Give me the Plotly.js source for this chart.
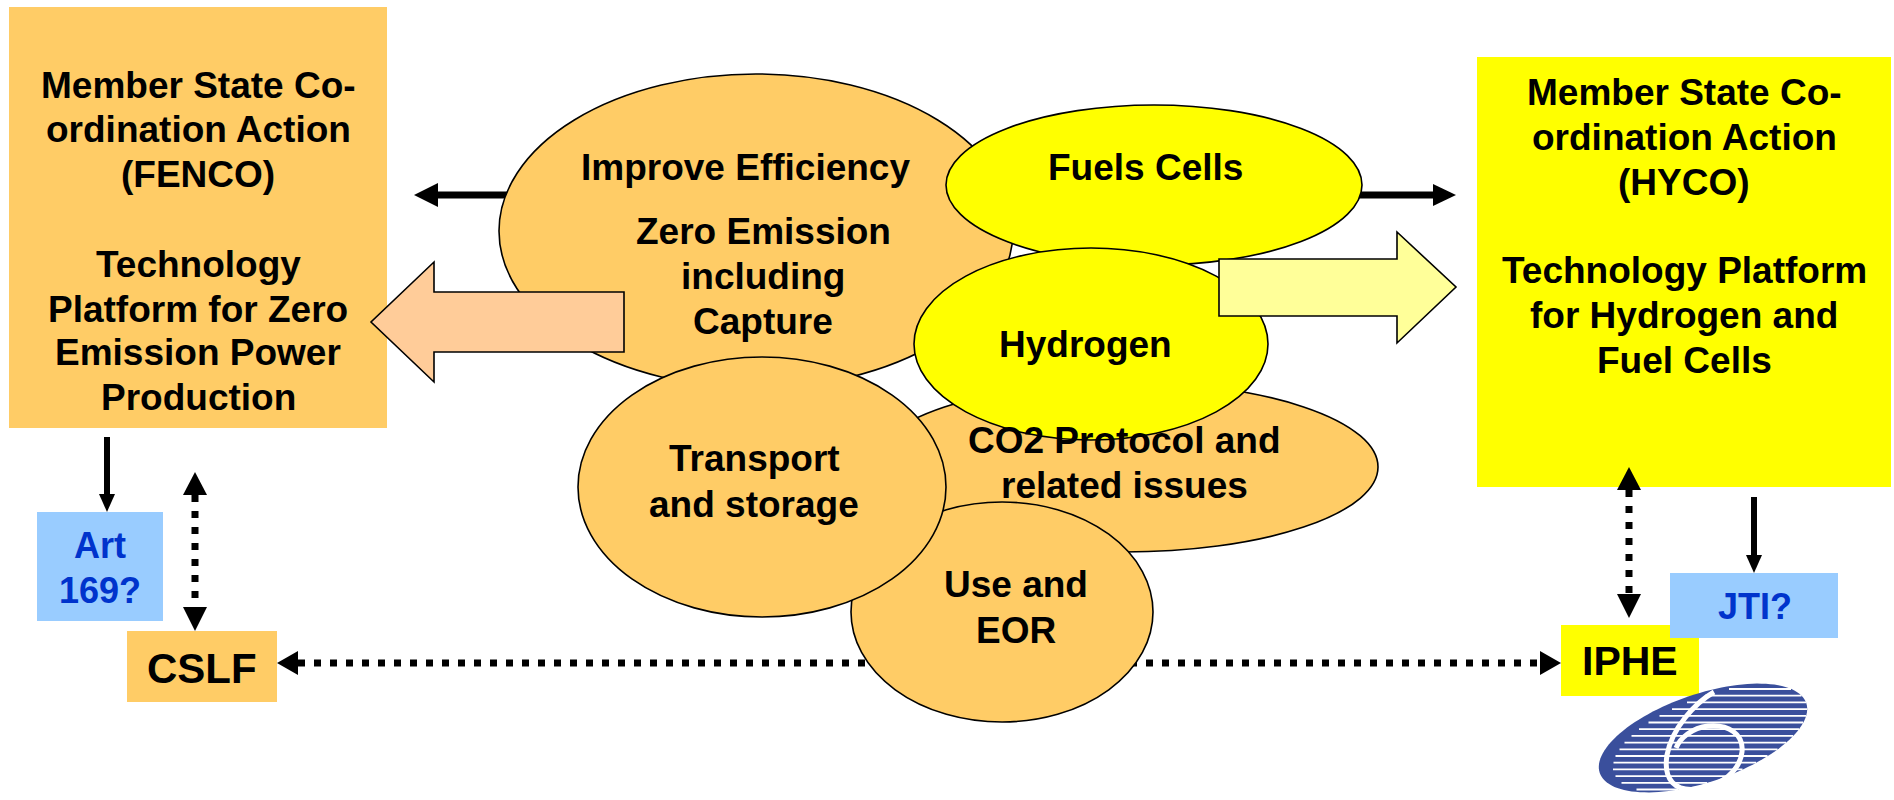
<!DOCTYPE html>
<html><head><meta charset="utf-8">
<script src="https://cdn.plot.ly/plotly-3.0.1.min.js"></script>
<style>html,body{margin:0;padding:0;background:#fff;overflow:hidden}#chart{width:1894px;height:800px}</style>
</head><body><div id="chart"></div>
<script>
// ---- Text content ----
const fencoLines = ["Member State Co-", "ordination Action", "(FENCO)", "Technology", "Platform for Zero", "Emission Power", "Production"];
const hycoLines = ["Member State Co-", "ordination Action", "(HYCO)", "Technology Platform", "for Hydrogen and", "Fuel Cells"];
const zeroLines = ["Improve Efficiency", "Zero Emission", "including", "Capture"];
const fuelLines = ["Fuels Cells"];
const hydrogenLines = ["Hydrogen"];
const co2Lines = ["CO2 Protocol and", "related issues"];
const transportLines = ["Transport", "and storage"];
const useLines = ["Use and", "EOR"];
const artLines = ["Art", "169?"];
const jtiLines = ["JTI?"];
const cslfLines = ["CSLF"];
const ipheLines = ["IPHE"];

// ---- Layout geometry (pixel positions, separate from content) ----
const ORANGE = "#FFCC66", YELLOW = "#FFFF00", PEACH = "#FFCC99", LIGHTY = "#FFFF99", LBLUE = "#99CCFF", DBLUE = "#0033CC";
const FONT = "Liberation Sans, Arial, Helvetica, sans-serif";

const shapes = [];
const annotations = [];

function rect(x0, y0, x1, y1, fill) {
  shapes.push({type: "rect", xref: "x", yref: "y", x0, y0, x1, y1, fillcolor: fill, line: {width: 0}, layer: "above"});
}
function ellipse(cx, cy, rx, ry, fill) {
  shapes.push({type: "circle", xref: "x", yref: "y", x0: cx - rx, x1: cx + rx, y0: cy - ry, y1: cy + ry,
    fillcolor: fill, line: {color: "#000", width: 1.6}, layer: "above"});
}
function poly(pts, fill, lw, lc) {
  const d = "M " + pts.map(p => p[0].toFixed(2) + "," + p[1].toFixed(2)).join(" L ") + " Z";
  shapes.push({type: "path", xref: "x", yref: "y", path: d, fillcolor: fill,
    line: {color: lc || "#000", width: lw === undefined ? 0 : lw}, layer: "above"});
}
function seg(x0, y0, x1, y1, w, dash, color) {
  shapes.push({type: "line", xref: "x", yref: "y", x0, y0, x1, y1,
    line: {color: color || "#000", width: w, dash: dash || "solid"}, layer: "above"});
}
function text(lines, x, ys, size, color) {
  lines.forEach((t, i) => annotations.push({
    x, y: ys[i], xref: "x", yref: "y", text: t, showarrow: false, xanchor: "center", yanchor: "middle",
    font: {family: FONT, size, color: color || "#000", weight: 700}
  }));
}
// arrowheads: tip point, direction, length, half width
function head(tx, ty, dir, len, hw) {
  if (dir === "left") poly([[tx, ty], [tx + len, ty - hw], [tx + len, ty + hw]], "#000");
  if (dir === "right") poly([[tx, ty], [tx - len, ty - hw], [tx - len, ty + hw]], "#000");
  if (dir === "up") poly([[tx, ty], [tx - hw, ty + len], [tx + hw, ty + len]], "#000");
  if (dir === "down") poly([[tx, ty], [tx - hw, ty - len], [tx + hw, ty - len]], "#000");
}

// big boxes
rect(9, 7, 387, 428, ORANGE);
rect(1477, 57, 1891, 487, YELLOW);

// dotted horizontal link CSLF <-> IPHE (behind bubbles)
const DOT = "7px,9px";
seg(298, 663, 1541, 663, 7, DOT);
head(277, 663, "left", 21, 12);
head(1561, 663, "right", 21, 12);

// thin black arrows (shafts behind bubbles)
seg(436, 195, 530, 195, 7);
seg(1330, 195, 1434, 195, 7);

// bubbles (draw order matters)
ellipse(756, 231, 257, 157, ORANGE);     // Improve efficiency / zero emission
ellipse(1154, 185, 208, 80, YELLOW);     // Fuel cells
ellipse(1124, 467, 254, 85, ORANGE);     // CO2 protocol
ellipse(1002, 612, 151, 110, ORANGE);    // Use and EOR
ellipse(762, 487, 184, 130, ORANGE);     // Transport and storage
ellipse(1091, 344, 177, 96, YELLOW);     // Hydrogen

// block arrows
poly([[624, 292], [434, 292], [434, 262], [371, 322], [434, 382], [434, 352], [624, 352]], PEACH, 1.6);
poly([[1219, 259], [1397, 259], [1397, 232], [1456, 287], [1397, 343], [1397, 316], [1219, 316]], LIGHTY, 1.6);

// black arrow heads
head(414, 195, "left", 24, 12);
head(1456, 195, "right", 23, 11);

// small boxes
rect(37, 512, 163, 621, LBLUE);
rect(127, 631, 277, 702, ORANGE);
rect(1561, 625, 1699, 696, YELLOW);
rect(1670, 573, 1838, 638, LBLUE);

// vertical solid arrows
seg(107, 437, 107, 497, 6);
head(107, 512, "down", 18, 8);
seg(1754, 497, 1754, 557, 6);
head(1754, 573, "down", 18, 8);

// vertical dotted double arrows
head(195, 472, "up", 23, 12);
seg(195, 495, 195, 607, 7, DOT);
head(195, 631, "down", 24, 12);
head(1629, 467, "up", 23, 12);
seg(1629, 490, 1629, 594, 7, DOT);
head(1629, 618, "down", 24, 12);

// ---- FP6 logo (decorative) ----
(function logo() {
  const cx = 1703, cy = 738, a = 109, b = 44, ang = -18.7 * Math.PI / 180;
  const c = Math.cos(ang), s = Math.sin(ang);
  const pts = [];
  for (let i = 0; i < 120; i++) {
    const t = i / 120 * 2 * Math.PI;
    const ex = a * Math.cos(t), ey = b * Math.sin(t);
    pts.push([cx + ex * c - ey * s, cy + ex * s + ey * c]);
  }
  poly(pts, "#3A4F9C", 0);
  const inside = (x, y) => { const dx = x - cx, dy = y - cy; const u = dx * c + dy * s, v = -dx * s + dy * c; return u * u / (a * a) + v * v / (b * b) <= 1; };
  for (let y = 689; y < 795; y += 6.7) {
    let xmin = null, xmax = null;
    for (let x = 1585; x < 1820; x += 0.5) { if (inside(x, y)) { if (xmin === null) xmin = x; xmax = x; } }
    if (xmin !== null && xmax - xmin > 20) seg(xmin + 14, y, xmax, y, 1.8, "solid", "#fff");
  }
  shapes.push({type: "path", xref: "x", yref: "y",
    path: "M 1714,692 C 1695,703 1672,728 1667,755 C 1663,780 1675,792 1698,789 C 1722,786 1740,770 1742,752 C 1744,734 1728,724 1708,726 C 1692,728 1680,738 1676,748",
    line: {color: "#fff", width: 5}, fillcolor: "rgba(0,0,0,0)", layer: "above"});
})();

// ---- texts ----
text(fencoLines, 198, [85, 129.5, 174.5, 264.5, 309.5, 352.5, 397.5], 37);
text(hycoLines, 1684, [92.5, 137.5, 182.5, 270.5, 315.5, 360.5], 37);
text([zeroLines[0]], 745, [167.5], 37);
text(zeroLines.slice(1), 763, [231, 276, 321], 37);
text(fuelLines, 1145, [167.5], 37);
text(hydrogenLines, 1085, [344.5], 37);
text(co2Lines, 1124, [440.5, 485], 37);
text(transportLines, 754, [458.5, 504], 37);
text(useLines, 1016, [584.5, 630], 37);
text(artLines, 100, [545.5, 590.5], 36, DBLUE);
text(jtiLines, 1754.5, [606.5], 36, DBLUE);
text(cslfLines, 202, [668], 42);
text(ipheLines, 1630, [660.5], 41);

const layout = {
  width: 1894, height: 800, margin: {l: 0, r: 0, t: 0, b: 0},
  paper_bgcolor: "#fff", plot_bgcolor: "#fff", showlegend: false,
  xaxis: {range: [0, 1894], visible: false, fixedrange: true},
  yaxis: {range: [800, 0], visible: false, fixedrange: true},
  shapes, annotations
};
Plotly.newPlot("chart", [{x: [], y: [], type: "scatter", mode: "markers", hoverinfo: "skip"}], layout, {staticPlot: true, displayModeBar: false});
</script>
</body></html>
